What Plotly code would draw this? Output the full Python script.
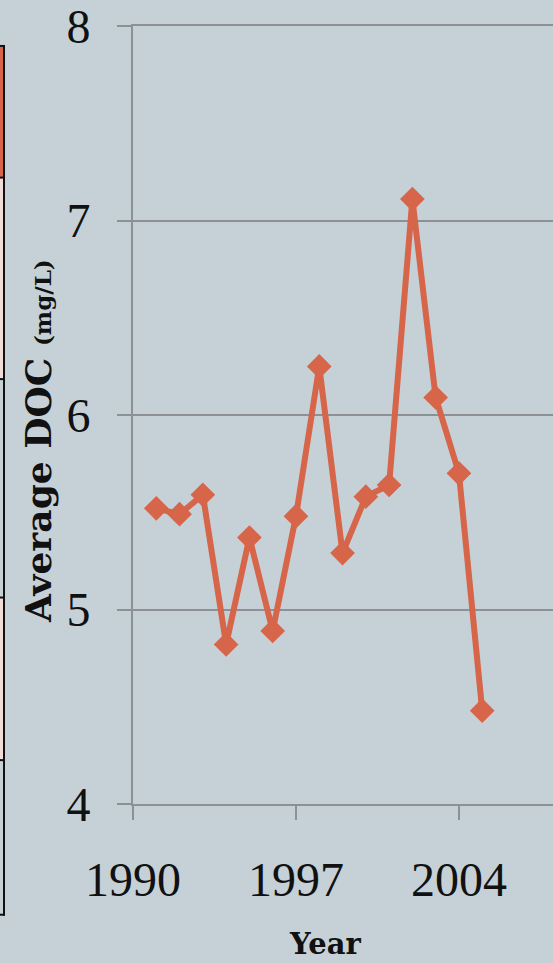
import plotly.graph_objects as go

# Annual average dissolved organic carbon
years = list(range(1991, 2006))
doc = [5.52, 5.49, 5.59, 4.82, 5.37, 4.89, 5.48, 6.25, 5.29, 5.58, 5.64, 7.11, 6.09, 5.70, 4.48]

x_ticks = [1990, 1997, 2004]
y_ticks = [4, 5, 6, 7, 8]

W, H = 553, 963
ML, MR, MT, MB = 133, 0, 24, 159
PW, PH = W - ML - MR, H - MT - MB

BG = "#c6d1d7"
GRID = "#8d9194"
LINE = "#d6654a"
TICK_FONT = dict(family="Liberation Serif, serif", size=48, color="#111111")


def px(x):
    return (x - ML) / PW


def py(y):
    return (H - MB - y) / PH


fig = go.Figure()
fig.add_trace(go.Scatter(
    x=years, y=doc, mode="lines+markers",
    line=dict(color=LINE, width=6),
    marker=dict(symbol="diamond", size=19, color=LINE),
    cliponaxis=False, showlegend=False,
))

# edge of the neighbouring stacked column at the far left
shapes = []
for y0, y1, col in [(44, 176, "#d6654a"), (176, 378, "#f2dcd8"), (597, 760, "#f2dcd8")]:
    shapes.append(dict(type="rect", xref="paper", yref="paper",
                       x0=px(-2), x1=px(4), y0=py(y1), y1=py(y0),
                       fillcolor=col, line=dict(width=0), layer="below"))
shapes.append(dict(type="line", xref="paper", yref="paper",
                   x0=px(4), x1=px(4), y0=py(916), y1=py(43),
                   line=dict(color="#111111", width=2)))
for yb in [44, 176, 378, 597, 760, 915]:
    shapes.append(dict(type="line", xref="paper", yref="paper",
                       x0=px(-2), x1=px(5), y0=py(yb), y1=py(yb),
                       line=dict(color="#111111", width=2)))

fig.update_layout(
    width=W, height=H,
    margin=dict(l=ML, r=MR, t=MT, b=MB, pad=0),
    paper_bgcolor=BG, plot_bgcolor=BG,
    shapes=shapes,
    xaxis=dict(
        range=[1990, 2008.04], tickvals=x_ticks, ticktext=[str(v) for v in x_ticks],
        showgrid=False, zeroline=False,
        showline=True, linecolor=GRID, linewidth=2, mirror=True,
        ticks="outside", ticklen=14, tickwidth=2, tickcolor=GRID,
        tickfont=TICK_FONT, ticklabelstandoff=18, ticklabeloverflow="allow",
    ),
    yaxis=dict(
        range=[4, 8], tickvals=y_ticks, ticktext=[str(v) for v in y_ticks],
        showgrid=True, gridcolor=GRID, gridwidth=2, zeroline=False,
        showline=True, linecolor=GRID, linewidth=2,
        ticks="outside", ticklen=14, tickwidth=2, tickcolor=GRID,
        tickfont=TICK_FONT, ticklabelstandoff=17, ticklabeloverflow="allow",
    ),
    annotations=[
        dict(text="<b>Average DOC</b> <b><span style='font-size:23px'>(mg/L)</span></b>",
             xref="paper", yref="paper", x=px(38), y=py(440),
             xanchor="center", yanchor="middle", textangle=-90, showarrow=False,
             font=dict(family="DejaVu Serif, serif", size=36, color="#111111")),
        dict(text="<b>Year</b>",
             xref="paper", yref="paper", x=px(325), y=py(944),
             xanchor="center", yanchor="middle", showarrow=False,
             font=dict(family="DejaVu Serif, serif", size=29, color="#111111")),
    ],
)

fig.write_html("out.html")
